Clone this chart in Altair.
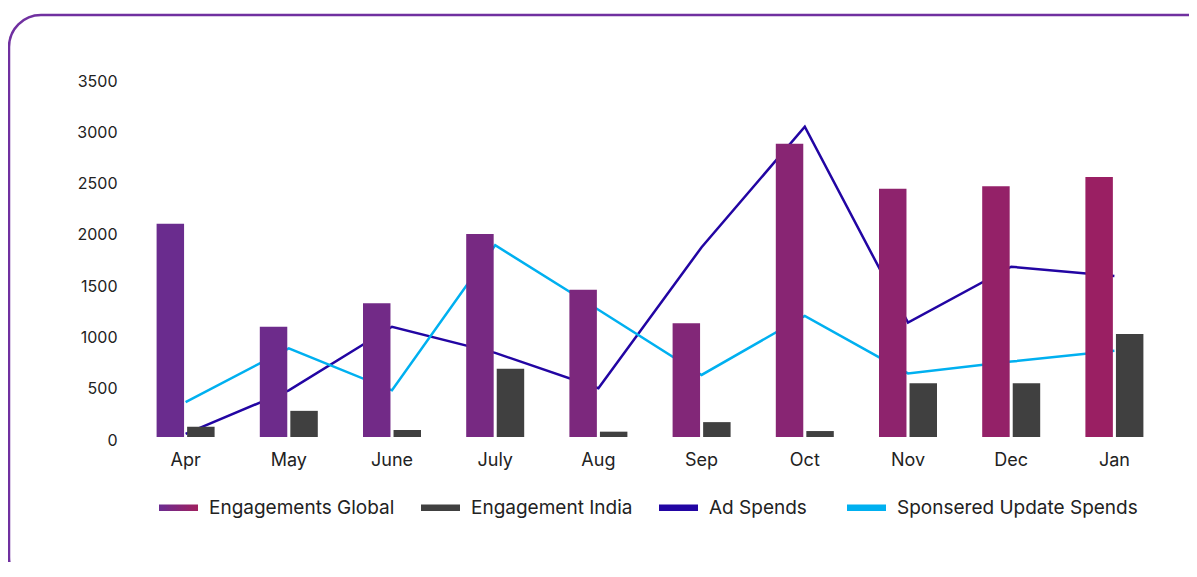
import altair as alt
import pandas as pd

# ---------------- data ----------------
MONTHS = ["Apr", "May", "June", "July", "Aug", "Sep", "Oct", "Nov", "Dec", "Jan"]
ENG_GLOBAL = [2080, 1075, 1305, 1980, 1435, 1110, 2860, 2420, 2445, 2535]
ENG_INDIA = [100, 255, 68, 665, 52, 145, 58, 525, 525, 1005]
AD_SPENDS = [30, 455, 1075, 820, 475, 1850, 3025, 1115, 1660, 1570]
SPONSORED = [340, 865, 455, 1870, 1240, 605, 1180, 620, 735, 840]
SERIES = ["Engagements Global", "Engagement India", "Ad Spends", "Sponsered Update Spends"]
Y_TICKS = [0, 500, 1000, 1500, 2000, 2500, 3000, 3500]

# ---------------- styles ----------------
GLOBAL_PALETTE = ["#6A2C8E", "#6D2B8B", "#722A87", "#772982", "#7C287D",
                  "#822778", "#882573", "#8E236D", "#942168", "#9A1F63"]
GLOBAL_MID = "#85266F"
INDIA_COLOR = "#404040"
AD_COLOR = "#2205A3"
SP_COLOR = "#00B0F0"
FRAME_COLOR = "#7030A0"
FONT = "Inter"
TEXT_COLOR = "#222222"
RECT_PATH = "M-1,-0.17L1,-0.17L1,0.17L-1,0.17Z"
GRAD_EXPR = ("{gradient: 'linear', x1: 0, y1: 0, x2: 1, y2: 0, "
             "stops: [{offset: 0, color: '#6B2C91'}, {offset: 1, color: '#A0205F'}]}")
# extra trailing (blank) room after the third legend entry, as in the original layout
LEGEND_LABEL_EXPR = ("datum.label === 'Ad Spends' ? "
                     "'Ad Spends\u2800' : datum.label")

bars_df = pd.DataFrame({
    "month": MONTHS * 2,
    "series": [SERIES[0]] * len(MONTHS) + [SERIES[1]] * len(MONTHS),
    "value": ENG_GLOBAL + ENG_INDIA,
})
lines_df = pd.DataFrame({
    "month": MONTHS * 2,
    "series": [SERIES[2]] * len(MONTHS) + [SERIES[3]] * len(MONTHS),
    "value": AD_SPENDS + SPONSORED,
})


def build(first_legend_color):
    x_enc = alt.X("month:N", sort=MONTHS,
                  scale=alt.Scale(domain=MONTHS, paddingInner=0.438, paddingOuter=0.219),
                  axis=alt.Axis(title=None, labelAngle=0, domain=False, ticks=False, tickSize=0,
                                labelFontSize=18, labelPadding=14, labelColor=TEXT_COLOR,
                                labelFont=FONT))
    y_enc = alt.Y("value:Q", scale=alt.Scale(domain=[0, 3500], nice=False),
                  axis=alt.Axis(title=None, values=Y_TICKS, format="d", grid=False,
                                domain=False, ticks=False, tickSize=0, labelFontSize=16,
                                labelPadding=17, labelOffset=3, labelColor=TEXT_COLOR,
                                labelFont=FONT))
    xoff = alt.XOffset("series:N", scale=alt.Scale(domain=SERIES[:2], paddingInner=0.1,
                                                    paddingOuter=0))

    frame = alt.Chart(pd.DataFrame({"k": [0]})).mark_rect(
        cornerRadius=32, fill="transparent", stroke=FRAME_COLOR, strokeWidth=2.5
    ).encode(x=alt.value(-125), x2=alt.value(1300), y=alt.value(-63), y2=alt.value(511))

    line = alt.Chart(lines_df).mark_line(strokeWidth=2.5).encode(
        x=x_enc, y=y_enc,
        stroke=alt.Stroke("series:N",
                          scale=alt.Scale(domain=SERIES[2:], range=[AD_COLOR, SP_COLOR]),
                          legend=None),
    )

    gbar = alt.Chart(bars_df).transform_filter(alt.datum.series == SERIES[0]).mark_bar().encode(
        x=x_enc, xOffset=xoff, y=y_enc,
        color=alt.Color("month:N", scale=alt.Scale(domain=MONTHS, range=GLOBAL_PALETTE),
                        legend=None),
    )
    ibar = alt.Chart(bars_df).transform_filter(alt.datum.series == SERIES[1]).mark_bar(
        color=INDIA_COLOR
    ).encode(x=x_enc, xOffset=xoff, y=y_enc)

    # invisible layer that only carries the legend
    legend_layer = alt.Chart(lines_df).mark_point(filled=True, opacity=0, size=1521).encode(
        x=x_enc, y=y_enc,
        fill=alt.Fill("series:N",
                      scale=alt.Scale(domain=SERIES,
                                      range=[first_legend_color, INDIA_COLOR, AD_COLOR, SP_COLOR]),
                      legend=alt.Legend(title=None, orient="none", legendX=25, legendY=410,
                                        direction="horizontal", symbolType=RECT_PATH,
                                        symbolSize=1521, symbolStrokeWidth=0, symbolOpacity=1,
                                        labelFont=FONT, labelFontSize=19,
                                        labelColor=TEXT_COLOR, labelOffset=11,
                                        labelExpr=LEGEND_LABEL_EXPR,
                                        columnPadding=26, padding=0, labelLimit=500)),
    )

    ch = alt.layer(frame, line, gbar, ibar, legend_layer).properties(
        width=1032, height=359,
        autosize=alt.AutoSizeParams(type="none"),
        padding={"left": 126, "top": 70, "right": 23, "bottom": 125},
    ).configure(background="white", font=FONT).configure_view(stroke="transparent")
    return ch


chart = None
for first in [alt.ExprRef(expr=GRAD_EXPR), GLOBAL_MID]:
    try:
        c = build(first)
        c.to_dict()
        chart = c
        break
    except Exception:
        continue

chart.save("out.html", embed_options={"renderer": "svg", "actions": False})
